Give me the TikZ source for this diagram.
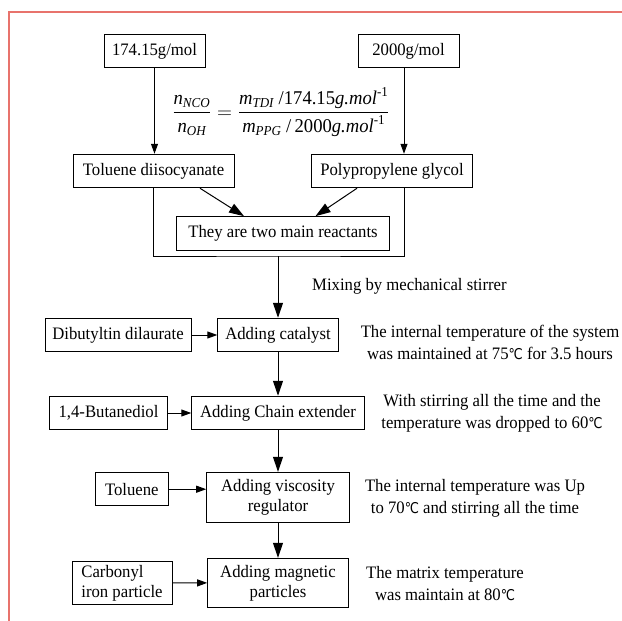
\documentclass[tikz,border=0pt]{standalone}
\usepackage{amsmath}
\usepackage{fontspec}
\setmainfont{Liberation Serif}[FakeStretch=0.955]
\newfontfamily\gradosfont{DejaVu Sans}[FakeStretch=0.85, Scale=0.85]
\newcommand{\grados}{{\gradosfont\char"2103}}
\usetikzlibrary{arrows.meta}
\definecolor{marco}{RGB}{232,115,108}

\begin{document}
\begin{tikzpicture}[x=1pt, y=-1pt, font=\fontsize{17.5}{22}\selectfont,
	caja/.style={draw, line width=1pt, minimum height=33.5pt, inner sep=3pt, align=center,
		font=\fontsize{17.5}{20}\selectfont},
	nota/.style={align=center, inner sep=0pt},
	flecha/.style={-{Triangle[length=10pt,width=7pt]}, line width=1pt},
	flechag/.style={-{Triangle[length=15pt,width=10pt]}, line width=1pt}]
		\useasboundingbox (0,0) rectangle (622,621);
		% Marco rojo
		\draw[marco, line width=1.5pt] (9,621) -- (9,12) -- (622,12);
		% Masas molares y reactivos
		\node[caja, minimum width=101pt] (pmtdi) at (154.5,51) {174.15g/mol};
		\node[caja, minimum width=101pt] (pmppg) at (408.5,51) {2000g/mol};
		\node[inner sep=0pt, font=\fontsize{19.5}{22}\selectfont] (formula) at (281,112)
			{$\dfrac{\textit{n}_{\textit{NCO}}}{\textit{n}_{\textit{OH}}}=
			\dfrac{\textit{m}_{\textit{TDI}}\ \textrm{/174.15}\textit{g.mol}^{\textrm{-1}}}
			{\textit{m}_{\textit{PPG}}\ \textrm{/\,2000}\textit{g.mol}^{\textrm{-1}}}$};
		\node[caja, minimum width=161pt] (tdi) at (153.5,171) {Toluene diisocyanate};
		\node[caja, minimum width=160.5pt] (ppg) at (392,171) {Polypropylene glycol};
		\node[caja, minimum width=213pt] (reac) at (283,233.4) {They are two main reactants};
		\coordinate (union) at (278,256);
		\node[anchor=west, inner sep=0pt] (mezcla) at (312,286) {Mixing by mechanical stirrer};
		% Etapas del proceso
		\node[caja, minimum width=146pt] (dbt) at (118,335) {Dibutyltin dilaurate};
		\node[caja, minimum width=120.4pt] (cat) at (278,335) {Adding catalyst};
		\node[nota] (nota1) at (490,342)
			{The internal temperature of the system\\was maintained at 75\grados{} for 3.5 hours};
		\node[caja, minimum width=172.5pt] (cadena) at (278,413) {Adding Chain extender};
		\node[caja, minimum width=118pt] (bdo) at (108.5,413) {1,4-Butanediol};
		\node[nota] (nota2) at (492,413)
			{With stirring all the time and the\\temperature was dropped to 60\grados};
		\node[caja, minimum width=142.6pt, minimum height=50pt] (visc) at (278,497.3)
			{Adding viscosity\\regulator};
		\node[caja, minimum width=72.4pt] (tol) at (131.8,489.2) {Toluene};
		\node[nota] (nota3) at (475,498)
			{The internal temperature was Up\\to 70\grados{} and stirring all the time};
		\node[caja, minimum width=140.6pt, minimum height=49pt] (mag) at (278,582.8)
			{Adding magnetic\\particles};
		\node[caja, minimum width=100pt, minimum height=42.6pt, align=left] (hierro) at (122,583)
			{Carbonyl\\iron particle};
		\node[nota] (nota4) at (445,584) {The matrix temperature\\was maintain at 80\grados};
		% Conexiones
		\draw[flecha] (pmtdi.south) -- (pmtdi.south |- tdi.north);
		\draw[flecha] ([xshift=-4.5pt]pmppg.south) -- ([xshift=-4.5pt]pmppg.south |- ppg.north);
		\draw[flechag] ([xshift=46.5pt]tdi.south) -- ([xshift=-39pt]reac.north);
		\draw[flechag] ([xshift=-35pt]ppg.south) -- ([xshift=32.5pt]reac.north);
		\draw[line width=1pt] (tdi.south) |- (union) -| ([xshift=12pt]ppg.south);
		\draw[flechag] (union) -- (cat.north);
		\draw[flecha] (dbt) -- (cat);
		\draw[flechag] (cat) -- (cadena);
		\draw[flecha] (bdo) -- (cadena);
		\draw[flechag] (cadena) -- (visc);
		\draw[flecha] (tol.east) -- (tol.east -| visc.west);
		\draw[flechag] (visc) -- (mag);
		\draw[flecha] (hierro) -- (mag);
	\end{tikzpicture}
\end{document}
